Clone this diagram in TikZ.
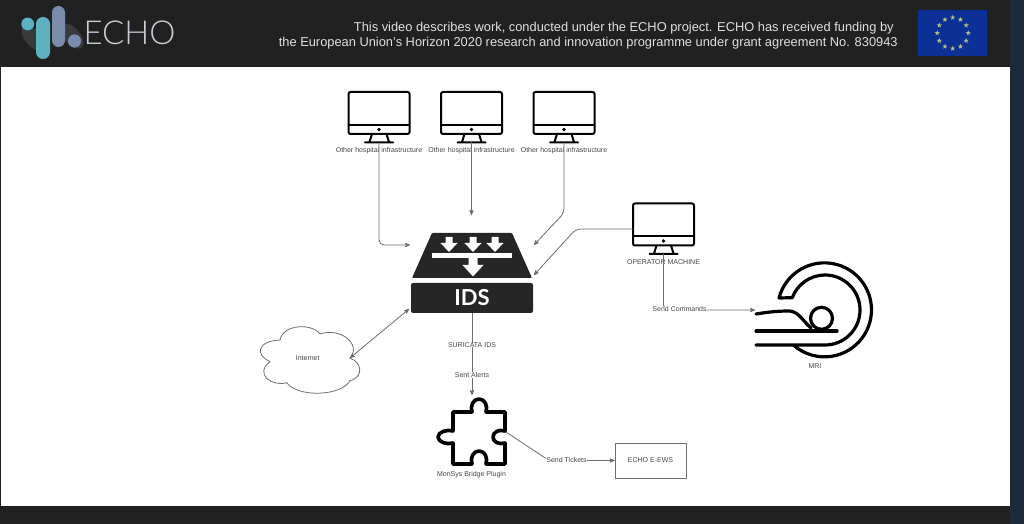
\documentclass[tikz,border=0pt]{standalone}
\usepackage{fontspec}
\setmainfont{Liberation Sans}
\newfontfamily\logofont{Lato}
\newfontfamily\logolight{Lato Light}
\usetikzlibrary{arrows}
\usetikzlibrary{shapes}
\definecolor{bar_dark}{RGB}{34,33,33}
\definecolor{bar_side}{RGB}{28,42,58}
\definecolor{flag_blue}{RGB}{12,48,150}
\definecolor{star_yell}{RGB}{178,186,130}
\definecolor{logo_teal}{RGB}{92,178,190}
\definecolor{logo_blue}{RGB}{122,140,172}
\definecolor{logo_gray}{RGB}{56,58,60}
\definecolor{logo_text}{RGB}{200,205,215}
\definecolor{edge_gray}{RGB}{110,110,110}
\definecolor{text_gray}{RGB}{70,70,70}
\newcommand\monitor[3]{
  \begin{scope}[shift={(#2)}]
    \node[screen] (#1) at (0,0) {};
    \draw[icon,line width=2] (-30.5,-12) -- (30.5,-12);
    \fill (0,-16.5) circle (1.9);
    \draw[icon,line width=2] (-7,-21) -- (-9.5,-29) (7.5,-21) -- (10,-29) (-14,-29.5) -- (14,-29.5);
    \coordinate (#1base) at (0,-29.5);
    \node[caption] (#1label) at (0,-38) {#3};
  \end{scope}}

\begin{document}
\begin{tikzpicture}[x=1pt,y=1pt,>=stealth',semithick]
    \tikzstyle{screen}=[draw, rounded corners=2, line width=2, inner sep=0, minimum width=61, minimum height=42]
    \tikzstyle{icon}=[line cap=round, line join=round, line width=3.2]
    \tikzstyle{caption}=[text=text_gray, font=\fontsize{7}{8}\selectfont, inner sep=0]
    \tikzstyle{onedge}=[style=caption, fill=white]
    \tikzstyle{link}=[draw=edge_gray, line width=0.8, ->, rounded corners=5]
    \tikzstyle{headtext}=[text=white!88!black, font=\fontsize{12.85}{15}\selectfont, inner sep=0, anchor=east]

    % screen frame
    \fill[bar_dark] (0,0) rectangle (1024,524);
    \fill[bar_side] (1010,0) rectangle (1024,524);
    \fill[white] (1,18) rectangle (1010,457);

    % logo
    \fill[logo_gray,rotate around={-50:(72,488)}] (72,488) ellipse (15 and 8);
    \fill[logo_gray,rotate around={-50:(33,486)}] (33,486) ellipse (15 and 8);
    \fill[logo_teal] (27.7,500) circle (6.4);
    \fill[logo_teal,rounded corners=6.9] (36,465) rectangle (50,507);
    \fill[logo_blue,rounded corners=6.5] (52,477) rectangle (65,518);
    \fill[logo_blue] (74.5,483) circle (6.6);
    \node[text=logo_text, font=\logolight\fontsize{33}{33}\selectfont, inner sep=0] (logo) at (129.5,491.5) {ECHO};

    % funding note
    \node[headtext] (note1) at (894,496) {This video describes work, conducted under the ECHO project. ECHO has received funding by};
    \node[headtext] (note2) at (898,481) {the European Union's Horizon 2020 research and innovation programme under grant agreement No. 830943};
    \fill[flag_blue] (918,468) rectangle (987,514);
    \foreach \a in {0,30,...,330}
      \node[star, star points=5, star point ratio=2.4, fill=star_yell, inner sep=0, minimum size=5.5] (star\a) at ([shift={(\a:15.5)}]952.7,491) {};

    \monitor{hosta}{379,411}{Other hospital infrastructure}
    \monitor{hostb}{471.5,411}{Other hospital infrastructure}
    \monitor{hostc}{564,411}{Other hospital infrastructure}
    \monitor{operator}{663.5,299.5}{OPERATOR MACHINE}

    % IDS
    \fill[black!85,rounded corners=1] (432,291) -- (512,291) -- (532,246) -- (412,246) -- cycle;
    \fill[white] (432,266) rectangle (512,271);
    \foreach \x in {449,473,495}
      \fill[white] (\x-3.5,287) -- (\x+3.5,287) -- (\x+3.5,281) -- (\x+8.5,281) -- (\x,272) -- (\x-8.5,281) -- (\x-3.5,281) -- cycle;
    \fill[white] (468.5,268) -- (477.5,268) -- (477.5,259) -- (483.5,259) -- (473,247.5) -- (462.5,259) -- (468.5,259) -- cycle;
    \node[fill=black!85, rounded corners=2, inner sep=0, minimum width=122, minimum height=30, text=white, font=\logofont\bfseries\fontsize{22}{22}\selectfont] (ids) at (472,226) {IDS};

    % puzzle piece
    \node[inner sep=0, minimum width=52, minimum height=52] (plugin) at (479,86) {};
    \draw[icon,line width=3.6] (453,112) -- (472,112) .. controls (470,118) and (473,125) .. (479,125) .. controls (485,125) and (488,118) .. (486,112) -- (505,112) -- (505,93)
      .. controls (499,95) and (493,92) .. (493,87) .. controls (493,82) and (499,79) .. (505,81) -- (505,60) -- (486,60)
      .. controls (488,66) and (485,73) .. (479,73) .. controls (473,73) and (470,66) .. (472,60) -- (453,60) -- (453,81)
      .. controls (447,79) and (438,82) .. (438,87) .. controls (438,92) and (447,95) .. (453,93) -- cycle;
    \node[caption] (pluginlabel) at (471.5,49) {MonSys Bridge Plugin};

    % MRI
    \draw[icon] (756,179) -- (825,179) arc (-90:159.4:35) -- (779,226) arc (165.4:-132:47);
    \draw[icon] (756,193) -- (837,193);
    \draw[icon] (756,210) .. controls (768,212) and (778,213) .. (789,213) .. controls (798,213) and (803,203) .. (811,196);
    \draw[icon] (821.5,205.7) circle (11);
    \node[caption] (mrilabel) at (815,158) {MRI};

    % cloud
    \node[inner sep=0, text=text_gray, font=\fontsize{7}{8}\selectfont] (internet) at (307.7,165.7) {Internet};
    \draw[draw=edge_gray, line width=0.8] (270,162.3) .. controls (254,170) and (258,183) .. (280,184)
      .. controls (283,200) and (312,201) .. (320,190) .. controls (340,197) and (362,180) .. (350,165.7)
      .. controls (362,162) and (364,147) .. (350,143.3) .. controls (342,128) and (298,126) .. (286.7,141.3)
      .. controls (272,137) and (254,150) .. (270,162.3) -- cycle;
    \node[draw=edge_gray, line width=0.8, inner sep=0, minimum width=71, minimum height=35, text=text_gray, font=\fontsize{7}{8}\selectfont] (ews) at (650.5,63.5) {ECHO E-EWS};

    \coordinate (inleft) at (410,279);
    \coordinate (inmid) at (471.5,309);
    \coordinate (inright) at (534,279);
    \coordinate (bendright) at (564,311);
    \coordinate (opout) at (633,295);
    \coordinate (opbend) at (576,295);
    \coordinate (inop) at (534,249);
    \coordinate (inmri) at (755,214);
    \coordinate (idsnet) at (409,215);
    \coordinate (netin) at (350,166);
    \coordinate (inplugin) at (472,129);
    \coordinate (ticketout) at (506,92);
    \coordinate (ticketbend) at (549,63.5);

    \draw[link] (hostabase) |- (inleft);
    \draw[link] (hostbbase) -- (inmid);
    \draw[link] (hostcbase) -- (bendright) -- (inright);
    \draw[link] (opout) -- (opbend) -- (inop);
    \draw[link] (operatorbase) |- (inmri);
    \node[onedge] (cmdlabel) at (679.5,214.5) {Send Commands};
    \draw[link,<->] (idsnet) -- (netin);
    \draw[link] (ids.south) -- (inplugin);
    \node[onedge] (suricata) at (472,179) {SURICATA IDS};
    \node[onedge] (alerts) at (472,149) {Sent Alerts};
    \draw[link] (ticketout) -- (ticketbend) -- (ews.west);
    \node[onedge] (tickets) at (566.5,64.5) {Send Tickets};
\end{tikzpicture}
\end{document}
